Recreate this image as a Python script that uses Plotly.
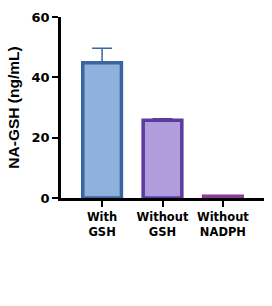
import plotly.graph_objects as go

categories = ["With<br>GSH", "Without<br>GSH", "Without<br>NADPH"]
values = [44.8, 25.8, 0.6]
errors_plus = [4.8, 0.5, 0.0]
fills = ["#8FB1DD", "#B29DDC", "#B07CC0"]
outlines = ["#3A65A2", "#5A3B9F", "#8B3A96"]
err_colors = ["#3A65A2", "#5A3B9F", "#8B3A96"]
y_ticks = [0, 20, 40, 60]

fig = go.Figure()
for i, c in enumerate(categories):
    fig.add_trace(go.Bar(
        x=[c], y=[values[i]], width=0.64,
        marker=dict(color=fills[i], line=dict(color=outlines[i], width=3.5)),
        error_y=dict(type="data", array=[errors_plus[i]], arrayminus=[0],
                     color=err_colors[i], thickness=1.5, width=10,
                     visible=errors_plus[i] > 0),
        showlegend=False,
    ))

fam = "DejaVu Sans"
fig.update_layout(
    width=272, height=306,
    margin=dict(l=61, r=8, t=17, b=108),
    plot_bgcolor="white", paper_bgcolor="white",
    font=dict(family=fam, size=11, color="black"),
    xaxis=dict(
        range=[-0.68, 2.68], showline=True, linecolor="black", linewidth=2.5,
        ticks="outside", ticklen=6, tickwidth=2, tickcolor="black",
        tickvals=categories, ticktext=["<b>" + c.replace("<br>", "</b><br><b>") + "</b>" for c in categories],
        tickfont=dict(family=fam, size=11.5, color="black"),
        showgrid=False, zeroline=False,
    ),
    yaxis=dict(
        range=[0, 60], tickvals=y_ticks, ticktext=["<b>%d</b>" % v for v in y_ticks],
        showline=True, linecolor="black", linewidth=2.5,
        ticks="outside", ticklen=6, tickwidth=2, tickcolor="black",
        tickfont=dict(family=fam, size=13, color="black"),
        showgrid=False, zeroline=False,
        title=dict(text="<b>NA-GSH (ng/mL)</b>", standoff=9,
                   font=dict(family="Liberation Sans, Arial", size=15.5, color="black")),
    ),
)
fig.write_html("out.html")
